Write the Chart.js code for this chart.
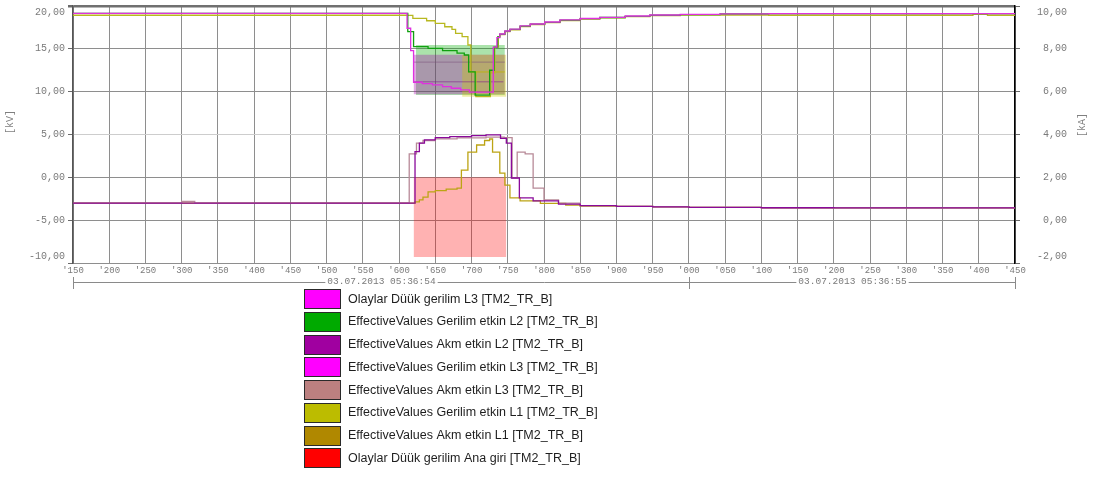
<!DOCTYPE html>
<html>
<head>
<meta charset="utf-8">
<script src="https://cdn.jsdelivr.net/npm/chart.js@4/dist/chart.umd.min.js"></script>
<style>
  html, body { margin: 0; padding: 0; background: #fff; }
  #wrap { width: 1096px; height: 479px; }
</style>
</head>
<body>
<div id="wrap"><canvas id="c" width="1096" height="479"></canvas></div>
<script>
// Time axis: milliseconds after 03.07.2013 05:36:54.000
const timeMin = 150;
const timeMax = 1450;
const timeStep = 50;
const secondMarks = [150, 1000, 1450];
const secondLabels = ['03.07.2013 05:36:54', '03.07.2013 05:36:55'];

// Effective voltages, kV (left axis)
const tVoltL3 = [150, 611, 616, 620, 632, 646, 660, 672, 685, 697, 730, 735, 739, 746, 753, 767, 781, 801, 822, 850, 877, 912, 946, 988, 1043, 1110, 1450];
const voltL3  = [19.15, 17.4, 14.8, 11.1, 10.95, 10.8, 10.6, 10.4, 10.2, 9.95, 15.2, 16.3, 16.73, 17.08, 17.3, 17.67, 17.9, 18.13, 18.37, 18.54, 18.68, 18.83, 18.95, 19.03, 19.09, 19.12, 19.12];

const tVoltL2 = [150, 612, 620, 640, 660, 680, 690, 696, 705, 725, 731, 736, 739, 746, 753, 767, 781, 801, 822, 850, 877, 912, 946, 988, 1043, 1110, 1450];
const voltL2  = [19.15, 17.0, 15.25, 15.05, 14.8, 14.5, 14.28, 12.3, 9.6, 12.5, 15.2, 16.4, 16.7, 17.05, 17.28, 17.64, 17.88, 18.1, 18.34, 18.52, 18.66, 18.8, 18.92, 19.0, 19.07, 19.12, 19.12];

const tVoltL1 = [150, 612, 619, 638, 650, 663, 673, 678, 687, 695, 699, 706, 726, 732, 737, 739, 746, 753, 767, 781, 801, 822, 850, 877, 912, 946, 988, 1043, 1110, 1392, 1412, 1450];
const voltL1  = [18.92, 18.9, 18.56, 18.28, 17.98, 17.58, 17.28, 16.81, 16.42, 15.45, 12.3, 9.41, 12.2, 15.2, 16.4, 16.65, 17.0, 17.22, 17.6, 17.84, 18.06, 18.3, 18.48, 18.62, 18.76, 18.87, 18.94, 18.95, 18.92, 19.02, 18.92, 18.92];

// Effective currents, kA (right axis)
const tCurrL1 = [150, 622, 628, 633, 640, 650, 665, 680, 686, 695, 707, 718, 725, 729, 739, 746, 753, 767, 795, 830, 850, 900, 950, 1000, 1100, 1200, 1450];
const currL1  = [0.80, 0.85, 0.95, 1.08, 1.32, 1.38, 1.45, 1.5, 2.34, 3.18, 3.51, 3.72, 3.79, 3.18, 2.2, 1.64, 1.04, 0.9, 0.78, 0.7, 0.66, 0.64, 0.62, 0.6, 0.58, 0.57, 0.57];

const tCurrL2 = [150, 622, 628, 635, 650, 670, 700, 720, 740, 748, 755, 766, 785, 820, 850, 900, 950, 1000, 1100, 1200, 1450];
const currL2  = [0.80, 3.2, 3.6, 3.75, 3.85, 3.9, 3.95, 3.98, 3.82, 3.6, 1.97, 1.04, 0.9, 0.75, 0.68, 0.64, 0.62, 0.6, 0.58, 0.57, 0.57];

const tCurrL3 = [150, 300, 318, 614, 624, 633, 650, 680, 720, 745, 756, 763, 774, 785, 800, 820, 850, 900, 950, 1000, 1100, 1200, 1450];
const currL3  = [0.80, 0.88, 0.80, 3.1, 3.6, 3.72, 3.8, 3.84, 3.88, 3.85, 1.97, 3.18, 3.1, 1.5, 0.95, 0.8, 0.68, 0.64, 0.62, 0.6, 0.58, 0.57, 0.57];

// Undervoltage events: [start ms, end ms], [top kV, bottom kV]
const evtMainSpan = [620, 748];  const evtMainLevels = [0, -9.3];
const evtL3Span   = [620, 746];  const evtL3Levels   = [14.3, 9.7];
const evtL2Span   = [623, 746];  const evtL2Levels   = [15.45, 9.6];
const evtL1Span   = [687, 748];  const evtL1Levels   = [14.3, 9.4];

// Event threshold marks inside the event window: [start ms, end ms, kV]
const markL3a = [620, 746, 13.45];
const markL1  = [695, 746, 12.3];
const markL3b = [620, 744, 11.15];

// Legend rows, top to bottom
const legendLabels = [
  'Olaylar Düük gerilim L3 [TM2_TR_B]',
  'EffectiveValues Gerilim etkin L2 [TM2_TR_B]',
  'EffectiveValues Akm etkin L2 [TM2_TR_B]',
  'EffectiveValues Gerilim etkin L3 [TM2_TR_B]',
  'EffectiveValues Akm etkin L3 [TM2_TR_B]',
  'EffectiveValues Gerilim etkin L1 [TM2_TR_B]',
  'EffectiveValues Akm etkin L1 [TM2_TR_B]',
  'Olaylar Düük gerilim Ana giri [TM2_TR_B]'
];
const legendColors = ['#ff00ff', '#00aa00', '#a000a0', '#ff00ff', '#bc8080', '#bcbc00', '#b08800', '#ff0000'];

const pts = (t, v) => t.map((x, i) => ({ x, y: v[i] }));
const band = (span, lv) => [{ x: span[0], y: lv[0] }, { x: span[1], y: lv[0] }];
const fmt = v => v.toFixed(2).replace('.', ',');

// Value-axis labels; the end labels are nudged inside the plot height
function axisLabel(min, max) {
  return v => {
    if (v === max) return ['', fmt(v)];
    if (v === min) return [fmt(v), ''];
    return fmt(v);
  };
}

function trace(label, t, v, color, axis) {
  return {
    label, data: pts(t, v), yAxisID: axis,
    borderColor: color, borderWidth: 1.3,
    pointRadius: 0, stepped: true, fill: false, order: 1
  };
}
function eventBand(label, span, lv, color) {
  return {
    label, data: band(span, lv), yAxisID: 'y',
    borderColor: 'transparent', borderWidth: 1, pointRadius: 0,
    backgroundColor: color, fill: { value: lv[1] }, order: 5
  };
}
function eventMark(label, m, color) {
  return {
    label, data: [{ x: m[0], y: m[2] }, { x: m[1], y: m[2] }], yAxisID: 'y',
    borderColor: color, borderWidth: 1, pointRadius: 0, fill: false, order: 3
  };
}

// Later bands are painted first, so the green L2 band sits underneath
const datasets = [
  trace(legendLabels[3], tVoltL3, voltL3, '#e030e0', 'y'),
  trace(legendLabels[1], tVoltL2, voltL2, '#10a010', 'y'),
  trace(legendLabels[5], tVoltL1, voltL1, '#b8b820', 'y'),
  trace(legendLabels[2], tCurrL2, currL2, '#8a0a9a', 'y1'),
  trace(legendLabels[4], tCurrL3, currL3, '#b88a98', 'y1'),
  trace(legendLabels[6], tCurrL1, currL1, '#bca414', 'y1'),
  eventMark('L3 olay eşiği', markL3a, 'rgba(120,80,120,0.55)'),
  eventMark('L1 olay eşiği', markL1, 'rgba(190,180,0,0.8)'),
  eventMark('L3 olay alt eşiği', markL3b, 'rgba(130,30,140,0.6)'),
  eventBand('Olaylar Düük gerilim L1 [TM2_TR_B]', evtL1Span, evtL1Levels, 'rgba(205,200,0,0.35)'),
  eventBand(legendLabels[0], evtL3Span, evtL3Levels, 'rgba(165,0,170,0.33)'),
  eventBand('Olaylar Düük gerilim L2 [TM2_TR_B]', evtL2Span, evtL2Levels, 'rgba(0,170,0,0.33)'),
  eventBand(legendLabels[7], evtMainSpan, evtMainLevels, 'rgba(255,0,0,0.30)')
];

const monoFont = '"Liberation Mono", "DejaVu Sans Mono", monospace';

// Axis titles, date row under the time axis and the series legend
const decorations = {
  id: 'decorations',
  afterDraw(chart) {
    const { ctx } = chart;
    const x = chart.scales.x;
    ctx.save();

    ctx.font = '10px ' + monoFont;
    ctx.fillStyle = '#7f7f7f';
    ctx.textAlign = 'center';
    ctx.textBaseline = 'middle';
    [['[kV]', 10, 122], ['[kA]', 1082, 125]].forEach(([txt, px, py]) => {
      ctx.save();
      ctx.translate(px, py);
      ctx.rotate(-Math.PI / 2);
      ctx.fillText(txt, 0, 0);
      ctx.restore();
    });

    const rowY = 282;
    const marks = secondMarks.map(v => Math.round(x.getPixelForValue(v)) + 0.5);
    ctx.strokeStyle = '#8a8a8a';
    ctx.lineWidth = 1;
    ctx.beginPath();
    ctx.moveTo(marks[0], rowY + 0.5);
    ctx.lineTo(marks[marks.length - 1], rowY + 0.5);
    marks.forEach(px => { ctx.moveTo(px, rowY - 5); ctx.lineTo(px, rowY + 7); });
    ctx.stroke();

    ctx.font = '9.5px ' + monoFont;
    secondLabels.forEach((txt, i) => {
      const cx = (marks[i] + marks[i + 1]) / 2;
      const w = ctx.measureText(txt).width;
      ctx.fillStyle = '#fff';
      ctx.fillRect(cx - w / 2 - 2, rowY - 4, w + 4, 9);
      ctx.fillStyle = '#7a7a7a';
      ctx.fillText(txt, cx, rowY - 1);
    });

    ctx.font = '12.5px "Liberation Sans", Arial, sans-serif';
    ctx.textAlign = 'left';
    legendLabels.forEach((txt, i) => {
      const cy = 299.3 + i * 22.7;
      ctx.fillStyle = legendColors[i];
      ctx.fillRect(304, Math.round(cy - 10), 37, 20);
      ctx.strokeStyle = '#2a2a2a';
      ctx.lineWidth = 1;
      ctx.strokeRect(304.5, Math.round(cy - 10) + 0.5, 36, 19);
      ctx.fillStyle = '#1e1e1e';
      ctx.fillText(txt, 348, cy);
    });
    ctx.restore();
  }
};

// The value axes keep only half a label of head room, not the label padding
function fitValueAxis(width) {
  return s => { s.width = width; s.paddingTop = 6; s.paddingBottom = 6; };
}

new Chart(document.getElementById('c'), {
  type: 'line',
  data: { datasets },
  options: {
    responsive: false,
    animation: false,
    events: [],
    layout: { padding: { top: 6, left: 0, right: 29, bottom: 0 } },
    plugins: { legend: { display: false }, tooltip: { enabled: false } },
    scales: {
      x: {
        type: 'linear', min: timeMin, max: timeMax,
        afterFit(s) { s.height = 216; },
        ticks: {
          stepSize: timeStep, autoSkip: false, maxRotation: 0, padding: 2,
          color: '#7a7a7a', font: { family: monoFont, size: 9 },
          callback: v => "'" + String(Math.round(v) % 1000).padStart(3, '0')
        },
        grid: { color: '#8e8e8e', drawTicks: false },
        border: { color: '#8e8e8e' }
      },
      y: {
        position: 'left', min: -10, max: 20,
        afterFit: fitValueAxis(73),
        ticks: {
          stepSize: 5, padding: 3, color: '#7a7a7a',
          font: { family: monoFont, size: 10, lineHeight: 1.3 }, callback: axisLabel(-10, 20)
        },
        grid: {
          tickLength: 5, tickColor: '#6a6a6a',
          color: c => c.tick && c.tick.value === 20 ? '#707070' : (c.tick && c.tick.value === 5 ? '#cdcdcd' : '#8e8e8e'),
          lineWidth: c => c.tick && c.tick.value === 20 ? 2.5 : 1
        },
        border: { color: '#555', width: 1.5 }
      },
      y1: {
        position: 'right', min: -2, max: 10,
        afterFit: fitValueAxis(52),
        ticks: {
          stepSize: 2, padding: 10, crossAlign: 'far', color: '#7a7a7a',
          font: { family: monoFont, size: 10, lineHeight: 1.3 }, callback: axisLabel(-2, 10)
        },
        grid: { drawOnChartArea: false, tickLength: 5, tickColor: '#6a6a6a' },
        border: { color: '#000', width: 1.5 }
      }
    }
  },
  plugins: [decorations]
});
</script>
</body>
</html>
